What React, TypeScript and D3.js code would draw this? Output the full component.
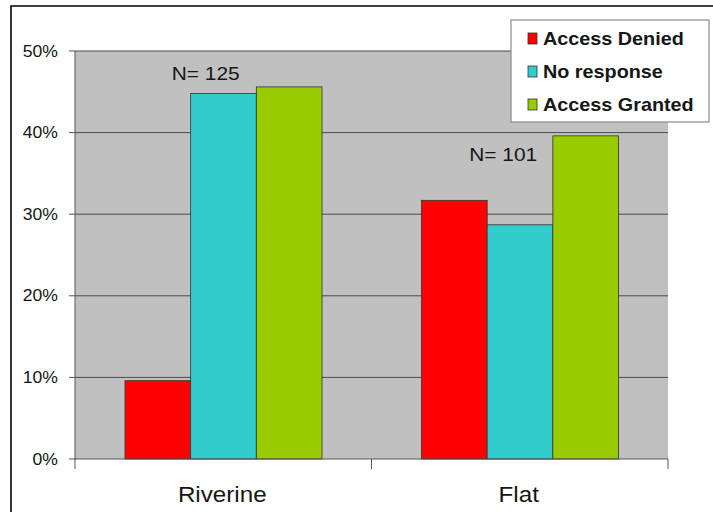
import React from "react";
import * as d3 from "d3";

const categories = ["Riverine", "Flat"];
const seriesNames = ["Access Denied", "No response", "Access Granted"];
const seriesColors = ["#ff0000", "#33cccc", "#99cc00"];
const riverineValues = [9.6, 44.8, 45.6];
const flatValues = [31.7, 28.7, 39.6];
const sampleSizes = ["N= 125", "N= 101"];
const yTicks = [0, 10, 20, 30, 40, 50];

const W = 713;
const H = 512;
const plot = { left: 75, right: 668, top: 51, bottom: 459 };
const FONT = "Arial, 'Liberation Sans', sans-serif";
const STRETCH = 1.1;

const StretchText = ({ x, y, anchor = "start", size, weight = "normal", children }: any) => (
  <g transform={`translate(${x},${y}) scale(${STRETCH},1)`}>
    <text x={0} y={0} textAnchor={anchor} fontSize={size} fontWeight={weight} fontFamily={FONT} fill="#161616">
      {children}
    </text>
  </g>
);

export default function App() {
  const values = [riverineValues, flatValues];

  const x0 = d3.scaleBand().domain(categories).range([plot.left, plot.right]).padding(0);
  const x1 = d3
    .scaleBand()
    .domain(seriesNames)
    .range([50, x0.bandwidth() - 49.5])
    .padding(0);
  const y = d3.scaleLinear().domain([0, 50]).range([plot.bottom, plot.top]);

  // N labels sit just left of the middle bar's centre in each group
  const labelPos = [
    { x: x0("Riverine")! + x1("No response")! + 15, y: y(50) + 29 },
    { x: x0("Flat")! + x1("No response")! + 16, y: y(40) + 28 },
  ];

  return (
    <svg width={W} height={H} style={{ position: "absolute", left: 0, top: 0, background: "#fff" }}>
      {/* outer frame */}
      <path d={`M11,${H + 2} V6 H${W + 2}`} fill="none" stroke="#000" strokeWidth={1.6} />

      {/* plot area */}
      <rect
        x={plot.left}
        y={plot.top}
        width={plot.right - plot.left}
        height={plot.bottom - plot.top}
        fill="#c0c0c0"
      />
      {yTicks
        .filter((t) => t > 0)
        .map((t) => (
          <line key={t} x1={plot.left} x2={plot.right} y1={y(t)} y2={y(t)} stroke="#4a4a4a" strokeWidth={1} />
        ))}

      {/* bars */}
      {categories.map((cat, ci) =>
        seriesNames.map((s, si) => (
          <rect
            key={cat + s}
            x={x0(cat)! + x1(s)!}
            y={y(values[ci][si])}
            width={x1.bandwidth()}
            height={y(0) - y(values[ci][si])}
            fill={seriesColors[si]}
            stroke="#333"
            strokeWidth={0.8}
          />
        ))
      )}

      {/* axes */}
      <line x1={plot.left} x2={plot.left} y1={plot.top} y2={plot.bottom} stroke="#555" strokeWidth={1} />
      <line x1={plot.left - 1} x2={plot.right} y1={plot.bottom} y2={plot.bottom} stroke="#555" strokeWidth={1.2} />
      {yTicks.map((t) => (
        <g key={t}>
          <line x1={plot.left - 6} x2={plot.left} y1={y(t)} y2={y(t)} stroke="#555" />
          <StretchText x={58} y={y(t) + 5.5} anchor="end" size={16}>
            {t}%
          </StretchText>
        </g>
      ))}
      {[plot.left, x0("Flat")!, plot.right].map((xv, i) => (
        <line key={i} x1={xv} x2={xv} y1={plot.bottom} y2={plot.bottom + 10} stroke="#555" />
      ))}
      {categories.map((cat) => (
        <StretchText key={cat} x={x0(cat)! + x0.bandwidth() / 2 - 1} y={502} anchor="middle" size={22}>
          {cat}
        </StretchText>
      ))}

      {/* sample size labels */}
      {sampleSizes.map((label, i) => (
        <StretchText key={label} x={labelPos[i].x} y={labelPos[i].y} anchor="middle" size={19}>
          {label}
        </StretchText>
      ))}

      {/* legend */}
      <rect x={511} y={20} width={198} height={102} fill="#fff" stroke="#8a8a8a" strokeWidth={1.2} />
      {seriesNames.map((s, i) => (
        <g key={s}>
          <rect x={528} y={33 + i * 33} width={9} height={11} fill={seriesColors[i]} stroke="#333" strokeWidth={0.8} />
          <StretchText x={543} y={45 + i * 33} size={18} weight="bold">
            {s}
          </StretchText>
        </g>
      ))}
    </svg>
  );
}
